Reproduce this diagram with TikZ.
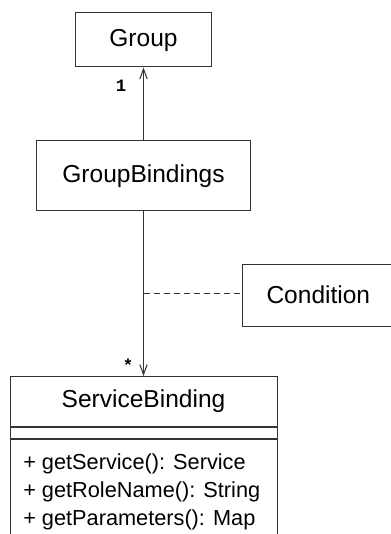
\documentclass[tikz,border=0pt]{standalone}
\usepackage{fontspec}
\setmainfont{Liberation Sans}
\newfontfamily\multfont{Liberation Mono}
\usetikzlibrary{positioning, arrows.meta}

\begin{document}
\begin{tikzpicture}[
    x=0.75pt, y=-0.75pt,
    umlbox/.style={draw=black!80, line width=0.75pt, rectangle, inner sep=0pt,
                   font=\fontsize{18.4}{22}\selectfont},
    member/.style={anchor=base west, inner sep=0pt, font=\fontsize{16.3}{20}\selectfont},
    mult/.style={inner sep=0pt, font=\multfont\bfseries\fontsize{13}{15}\selectfont},
    assoc/.style={draw=black!80, line width=0.75pt,
                  -{Straight Barb[length=7.5pt, width=5.5pt, line width=0.75pt]}},
    note/.style={draw=black!80, line width=0.75pt, dash pattern=on 4.5pt off 3pt}
]
    \useasboundingbox (0,0) rectangle (390,534);

    % --- Classes ---
    \node[umlbox, minimum width=102pt, minimum height=40.5pt]   (grp)  at (143.5, 40)  {Group};
    \node[umlbox, minimum width=160.5pt, minimum height=52.5pt] (gb)   at (143.5, 176) {GroupBindings};
    \node[umlbox, anchor=west, minimum height=46.5pt, inner xsep=18pt,
          text width=100pt, align=left] (cond) at (242, 295) {Condition};

    % --- ServiceBinding ---
    \node[umlbox, minimum width=200.25pt, minimum height=37.5pt, anchor=north] (sb) at (143.5, 376) {ServiceBinding};
    \node[umlbox, minimum width=200.25pt, minimum height=8.25pt, below=0pt of sb] (sbattr) {};
    \node[umlbox, minimum width=200.25pt, minimum height=90pt, below=0pt of sbattr] (sbops) {};
    \node[member] (op1) at (23, 469) {+ getService(): Service};
    \node[member] (op2) at (23, 497) {+ getRoleName(): String};
    \node[member] (op3) at (23, 525) {+ getParameters(): Map};

    % --- Associations ---
    \draw[assoc] (gb.north) -- (grp.south);
    \draw[assoc] (gb.south) -- (sb.north);
    \coordinate (dj) at (143.5, 293);
    \draw[note] (dj) -- (dj -| cond.west);

    % --- Multiplicities ---
    \node[mult] (m1) at (121, 86) {1};
    \node[mult] (m2) at (128, 365) {*};
\end{tikzpicture}
\end{document}
